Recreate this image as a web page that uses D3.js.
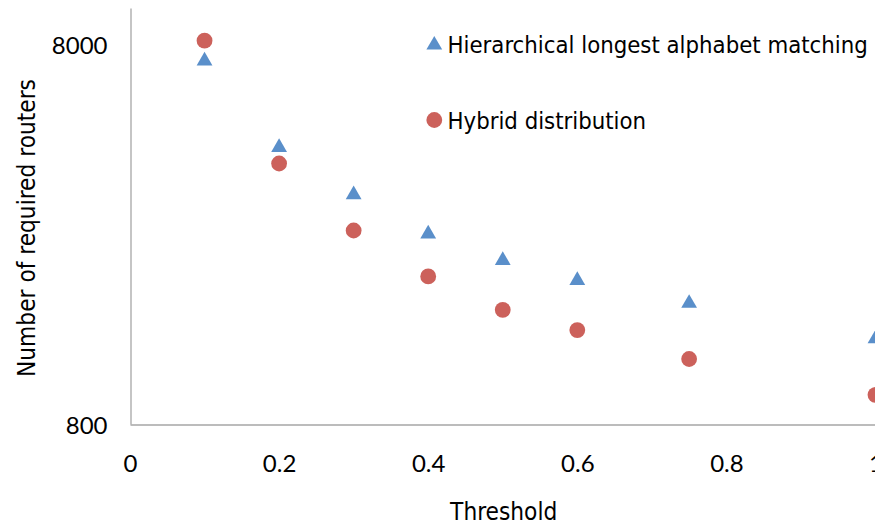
<!DOCTYPE html>
<html>
<head>
<meta charset="utf-8">
<script src="https://cdn.jsdelivr.net/npm/d3@7/dist/d3.min.js"></script>
<style>
  html, body { margin: 0; padding: 0; background: #fff; }
  svg { display: block; }
  .tick-label { font-family: Lato, "Liberation Sans", sans-serif; font-size: 24px; fill: #000; }
  .title, .legend text { font-family: "DejaVu Sans Condensed", "DejaVu Sans", sans-serif; font-stretch: condensed; font-size: 23.7px; fill: #000; }
  .title { font-size: 24.2px; }
</style>
</head>
<body>
<svg id="chart" width="875" height="527"></svg>
<script>
// Threshold values on the x axis
const thresholds = [0.1, 0.2, 0.3, 0.4, 0.5, 0.6, 0.75, 1.0];
// Number of required routers per series
const hierarchicalValues = [7320, 4330, 3250, 2560, 2180, 1930, 1680, 1355];
const hybridValues = [8200, 3890, 2590, 1960, 1600, 1415, 1187, 955];
const seriesNames = ["Hierarchical longest alphabet matching", "Hybrid distribution"];
// Axis tick labels
const xTicks = [0, 0.2, 0.4, 0.6, 0.8, 1];
const yTicks = [800, 8000];

const blue = "#5a8fca";
const red = "#cc615b";
const axisGray = "#a6a6a6";

const svg = d3.select("#chart");

const x = d3.scaleLinear().domain([0, 1]).range([130, 875.5]);
const y = d3.scaleLog().domain([800, 10000]).range([424, 8]);

// Axes: only the domain lines plus labels, no tick marks
const xAxis = svg.append("g")
  .attr("transform", `translate(0,${424.5})`)
  .call(d3.axisBottom(x).tickValues(xTicks).tickSize(0).tickPadding(0)
    .tickFormat(d => d3.format("")(d)));
xAxis.select(".domain").attr("stroke", axisGray).attr("stroke-width", 1.3);
xAxis.selectAll(".tick text")
  .attr("class", "tick-label")
  .attr("y", 47.5)
  .attr("dy", 0);

const yAxis = svg.append("g")
  .attr("transform", `translate(${130.5},0)`)
  .call(d3.axisLeft(y).tickValues(yTicks).tickSize(0).tickPadding(0)
    .tickFormat(d3.format("d")));
yAxis.select(".domain").attr("stroke", axisGray).attr("stroke-width", 1.3);
yAxis.selectAll(".tick text")
  .attr("class", "tick-label")
  .attr("x", -23)
  .attr("dy", "0.38em");
svg.selectAll(".tick line").remove();

// Axis titles
svg.append("text").attr("class", "title")
  .attr("x", 503.7).attr("y", 519.5)
  .attr("text-anchor", "middle")
  .text("Threshold");
svg.append("text").attr("class", "title")
  .attr("transform", "translate(35,228) rotate(-90)")
  .attr("text-anchor", "middle")
  .text("Number of required routers");

// Marker shapes
const tri = d3.symbol().type(d3.symbolTriangle).size(108);

// Hierarchical series: blue triangles
svg.append("g").selectAll("path")
  .data(thresholds.map((t, i) => [t, hierarchicalValues[i]]))
  .join("path")
  .attr("d", tri)
  .attr("transform", d => `translate(${x(d[0])},${y(d[1]) + 1.5})`)
  .attr("fill", blue);

// Hybrid series: red circles
svg.append("g").selectAll("circle")
  .data(thresholds.map((t, i) => [t, hybridValues[i]]))
  .join("circle")
  .attr("cx", d => x(d[0]))
  .attr("cy", d => y(d[1]))
  .attr("r", 7.9)
  .attr("fill", red);

// Legend
const legend = svg.append("g").attr("class", "legend");
legend.append("path").attr("d", tri)
  .attr("transform", "translate(434.3,45)")
  .attr("fill", blue);
legend.append("text").attr("x", 447.5).attr("y", 53.3).text(seriesNames[0]);
legend.append("circle").attr("cx", 434.3).attr("cy", 120).attr("r", 7.9).attr("fill", red);
legend.append("text").attr("x", 447.5).attr("y", 129.3).text(seriesNames[1]);
</script>
</body>
</html>
